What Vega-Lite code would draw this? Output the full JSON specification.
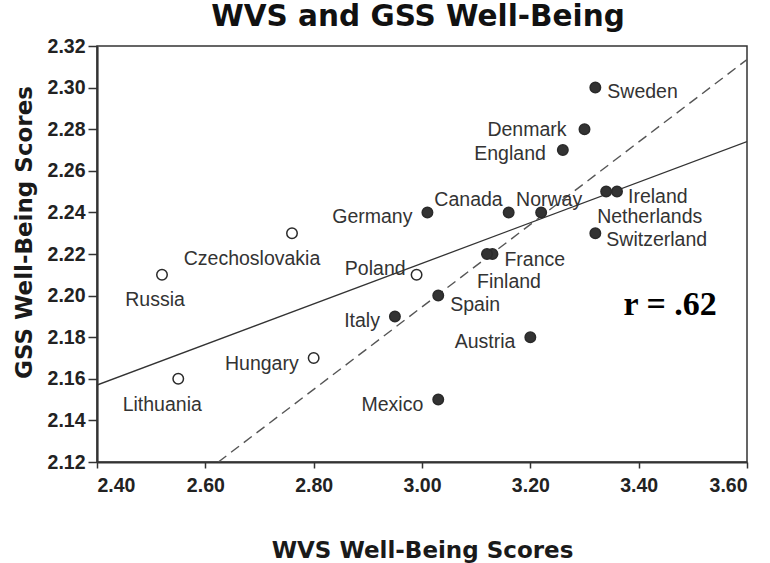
{
  "$schema": "https://vega.github.io/schema/vega-lite/v6.json",
  "autosize": "none",
  "width": 650,
  "height": 416,
  "padding": {"left": 97, "top": 46, "right": 23, "bottom": 101},
  "background": "white",
  "title": {
    "text": "WVS and GSS Well-Being",
    "font": "DejaVu Sans",
    "fontWeight": "bold",
    "fontSize": 29.5,
    "color": "#111",
    "anchor": "middle",
    "frame": "group",
    "offset": 4,
    "dx": -4
  },
  "datasets": {
    "countries": [
      {"country": "Sweden", "wvs": 3.32, "gss": 2.30, "bloc": "West"},
      {"country": "Denmark", "wvs": 3.30, "gss": 2.28, "bloc": "West"},
      {"country": "England", "wvs": 3.26, "gss": 2.27, "bloc": "West"},
      {"country": "Ireland", "wvs": 3.36, "gss": 2.25, "bloc": "West"},
      {"country": "Netherlands", "wvs": 3.34, "gss": 2.25, "bloc": "West"},
      {"country": "Germany", "wvs": 3.01, "gss": 2.24, "bloc": "West"},
      {"country": "Canada", "wvs": 3.16, "gss": 2.24, "bloc": "West"},
      {"country": "Norway", "wvs": 3.22, "gss": 2.24, "bloc": "West"},
      {"country": "Switzerland", "wvs": 3.32, "gss": 2.23, "bloc": "West"},
      {"country": "France", "wvs": 3.13, "gss": 2.22, "bloc": "West"},
      {"country": "Finland", "wvs": 3.12, "gss": 2.22, "bloc": "West"},
      {"country": "Spain", "wvs": 3.03, "gss": 2.20, "bloc": "West"},
      {"country": "Italy", "wvs": 2.95, "gss": 2.19, "bloc": "West"},
      {"country": "Austria", "wvs": 3.20, "gss": 2.18, "bloc": "West"},
      {"country": "Mexico", "wvs": 3.03, "gss": 2.15, "bloc": "West"},
      {"country": "Czechoslovakia", "wvs": 2.76, "gss": 2.23, "bloc": "East"},
      {"country": "Russia", "wvs": 2.52, "gss": 2.21, "bloc": "East"},
      {"country": "Poland", "wvs": 2.99, "gss": 2.21, "bloc": "East"},
      {"country": "Hungary", "wvs": 2.80, "gss": 2.17, "bloc": "East"},
      {"country": "Lithuania", "wvs": 2.55, "gss": 2.16, "bloc": "East"}
    ],
    "fits": [
      {"fit": "all", "wvs": 2.40, "gss": 2.157},
      {"fit": "all", "wvs": 3.60, "gss": 2.274},
      {"fit": "west", "wvs": 2.624, "gss": 2.12},
      {"fit": "west", "wvs": 3.60, "gss": 2.3135}
    ],
    "note": [
      {"label": "r = .62", "wvs": 3.458, "gss": 2.1955}
    ]
  },
  "encoding": {
    "x": {
      "field": "wvs", "type": "quantitative",
      "scale": {"domain": [2.4, 3.6], "nice": false, "zero": false},
      "axis": {
        "title": "WVS Well-Being Scores",
        "values": [2.4, 2.6, 2.8, 3.0, 3.2, 3.4, 3.6],
        "format": ".2f",
        "tickSize": 6,
        "labelPadding": 8.5,
        "titleBaseline": "alphabetic",
        "titleY": 95,
        "titleAnchor": "middle"
      }
    },
    "y": {
      "field": "gss", "type": "quantitative",
      "scale": {"domain": [2.12, 2.32], "nice": false, "zero": false},
      "axis": {
        "title": "GSS Well-Being Scores",
        "values": [2.12, 2.14, 2.16, 2.18, 2.2, 2.22, 2.24, 2.26, 2.28, 2.3, 2.32],
        "format": ".2f",
        "tickSize": 9,
        "labelPadding": 3,
        "titleBaseline": "alphabetic",
        "titleX": -66,
        "titleY": 186,
        "titleAngle": -90
      }
    }
  },
  "layer": [
    {
      "data": {"name": "fits"},
      "transform": [{"filter": "datum.fit === 'all'"}],
      "mark": {"type": "line", "color": "#333", "strokeWidth": 1.3, "clip": true}
    },
    {
      "data": {"name": "fits"},
      "transform": [{"filter": "datum.fit === 'west'"}],
      "mark": {"type": "line", "color": "#555", "strokeWidth": 1.4, "strokeDash": [10, 6], "clip": true}
    },
    {
      "data": {"name": "countries"},
      "mark": {"type": "point", "shape": "circle", "filled": true, "size": 110, "stroke": "#2a2a2a", "strokeWidth": 1.5, "opacity": 1},
      "encoding": {
        "fill": {
          "field": "bloc", "type": "nominal",
          "scale": {"domain": ["West", "East"], "range": ["#333333", "#ffffff"]},
          "legend": null
        }
      }
    },
    {
      "data": {"name": "countries"},
      "transform": [{"filter": "datum.country === 'Sweden'"}],
      "mark": {"type": "text", "align": "left", "baseline": "middle", "dx": 12, "dy": 4, "font": "Liberation Sans", "fontSize": 19.5, "color": "#333"},
      "encoding": {"text": {"field": "country"}}
    },
    {
      "data": {"name": "countries"},
      "transform": [{"filter": "datum.country === 'Ireland'"}],
      "mark": {"type": "text", "align": "left", "baseline": "middle", "dx": 11, "dy": 5, "font": "Liberation Sans", "fontSize": 19.5, "color": "#333"},
      "encoding": {"text": {"field": "country"}}
    },
    {
      "data": {"name": "countries"},
      "transform": [{"filter": "datum.country === 'Switzerland'"}],
      "mark": {"type": "text", "align": "left", "baseline": "middle", "dx": 11, "dy": 7, "font": "Liberation Sans", "fontSize": 19.5, "color": "#333"},
      "encoding": {"text": {"field": "country"}}
    },
    {
      "data": {"name": "countries"},
      "transform": [{"filter": "datum.country === 'France'"}],
      "mark": {"type": "text", "align": "left", "baseline": "middle", "dx": 12, "dy": 6, "font": "Liberation Sans", "fontSize": 19.5, "color": "#333"},
      "encoding": {"text": {"field": "country"}}
    },
    {
      "data": {"name": "countries"},
      "transform": [{"filter": "datum.country === 'Spain'"}],
      "mark": {"type": "text", "align": "left", "baseline": "middle", "dx": 12, "dy": 9, "font": "Liberation Sans", "fontSize": 19.5, "color": "#333"},
      "encoding": {"text": {"field": "country"}}
    },
    {
      "data": {"name": "countries"},
      "transform": [{"filter": "datum.country === 'Denmark'"}],
      "mark": {"type": "text", "align": "right", "baseline": "middle", "dx": -18, "dy": 1, "font": "Liberation Sans", "fontSize": 19.5, "color": "#333"},
      "encoding": {"text": {"field": "country"}}
    },
    {
      "data": {"name": "countries"},
      "transform": [{"filter": "datum.country === 'England'"}],
      "mark": {"type": "text", "align": "right", "baseline": "middle", "dx": -17, "dy": 4, "font": "Liberation Sans", "fontSize": 19.5, "color": "#333"},
      "encoding": {"text": {"field": "country"}}
    },
    {
      "data": {"name": "countries"},
      "transform": [{"filter": "indexof(['Germany','Austria','Italy','Mexico'], datum.country) >= 0"}],
      "mark": {"type": "text", "align": "right", "baseline": "middle", "dx": -15, "dy": 5, "font": "Liberation Sans", "fontSize": 19.5, "color": "#333"},
      "encoding": {"text": {"field": "country"}}
    },
    {
      "data": {"name": "countries"},
      "transform": [{"filter": "datum.country === 'Hungary'"}],
      "mark": {"type": "text", "align": "right", "baseline": "middle", "dx": -15, "dy": 6, "font": "Liberation Sans", "fontSize": 19.5, "color": "#333"},
      "encoding": {"text": {"field": "country"}}
    },
    {
      "data": {"name": "countries"},
      "transform": [{"filter": "datum.country === 'Poland'"}],
      "mark": {"type": "text", "align": "right", "baseline": "middle", "dx": -11, "dy": -6, "font": "Liberation Sans", "fontSize": 19.5, "color": "#333"},
      "encoding": {"text": {"field": "country"}}
    },
    {
      "data": {"name": "countries"},
      "transform": [{"filter": "datum.country === 'Canada'"}],
      "mark": {"type": "text", "align": "right", "baseline": "middle", "dx": -6, "dy": -12, "font": "Liberation Sans", "fontSize": 19.5, "color": "#333"},
      "encoding": {"text": {"field": "country"}}
    },
    {
      "data": {"name": "countries"},
      "transform": [{"filter": "datum.country === 'Norway'"}],
      "mark": {"type": "text", "align": "center", "baseline": "middle", "dx": 8, "dy": -12, "font": "Liberation Sans", "fontSize": 19.5, "color": "#333"},
      "encoding": {"text": {"field": "country"}}
    },
    {
      "data": {"name": "countries"},
      "transform": [{"filter": "datum.country === 'Netherlands'"}],
      "mark": {"type": "text", "align": "left", "baseline": "middle", "dx": -9, "dy": 25, "font": "Liberation Sans", "fontSize": 19.5, "color": "#333"},
      "encoding": {"text": {"field": "country"}}
    },
    {
      "data": {"name": "countries"},
      "transform": [{"filter": "datum.country === 'Finland'"}],
      "mark": {"type": "text", "align": "left", "baseline": "middle", "dx": -10, "dy": 28, "font": "Liberation Sans", "fontSize": 19.5, "color": "#333"},
      "encoding": {"text": {"field": "country"}}
    },
    {
      "data": {"name": "countries"},
      "transform": [{"filter": "datum.country === 'Lithuania'"}],
      "mark": {"type": "text", "align": "center", "baseline": "middle", "dx": -16, "dy": 26, "font": "Liberation Sans", "fontSize": 19.5, "color": "#333"},
      "encoding": {"text": {"field": "country"}}
    },
    {
      "data": {"name": "countries"},
      "transform": [{"filter": "datum.country === 'Russia'"}],
      "mark": {"type": "text", "align": "center", "baseline": "middle", "dx": -7, "dy": 25, "font": "Liberation Sans", "fontSize": 19.5, "color": "#333"},
      "encoding": {"text": {"field": "country"}}
    },
    {
      "data": {"name": "countries"},
      "transform": [{"filter": "datum.country === 'Czechoslovakia'"}],
      "mark": {"type": "text", "align": "center", "baseline": "middle", "dx": -40, "dy": 26, "font": "Liberation Sans", "fontSize": 19.5, "color": "#333"},
      "encoding": {"text": {"field": "country"}}
    },
    {
      "data": {"name": "note"},
      "mark": {"type": "text", "align": "center", "baseline": "middle", "font": "Liberation Serif", "fontWeight": "bold", "fontSize": 34, "color": "#000"},
      "encoding": {"text": {"field": "label"}}
    }
  ],
  "config": {
    "view": {"stroke": "#333", "strokeWidth": 1.5},
    "axis": {
      "grid": false,
      "domainColor": "#333",
      "domainWidth": 2.2,
      "tickColor": "#333",
      "tickWidth": 1.5,
      "labelFont": "Liberation Sans",
      "labelFontWeight": "bold",
      "labelFontSize": 19.5,
      "labelColor": "#222",
      "titleFont": "DejaVu Sans",
      "titleFontWeight": "bold",
      "titleFontSize": 23,
      "titleColor": "#1a1a1a"
    }
  }
}
